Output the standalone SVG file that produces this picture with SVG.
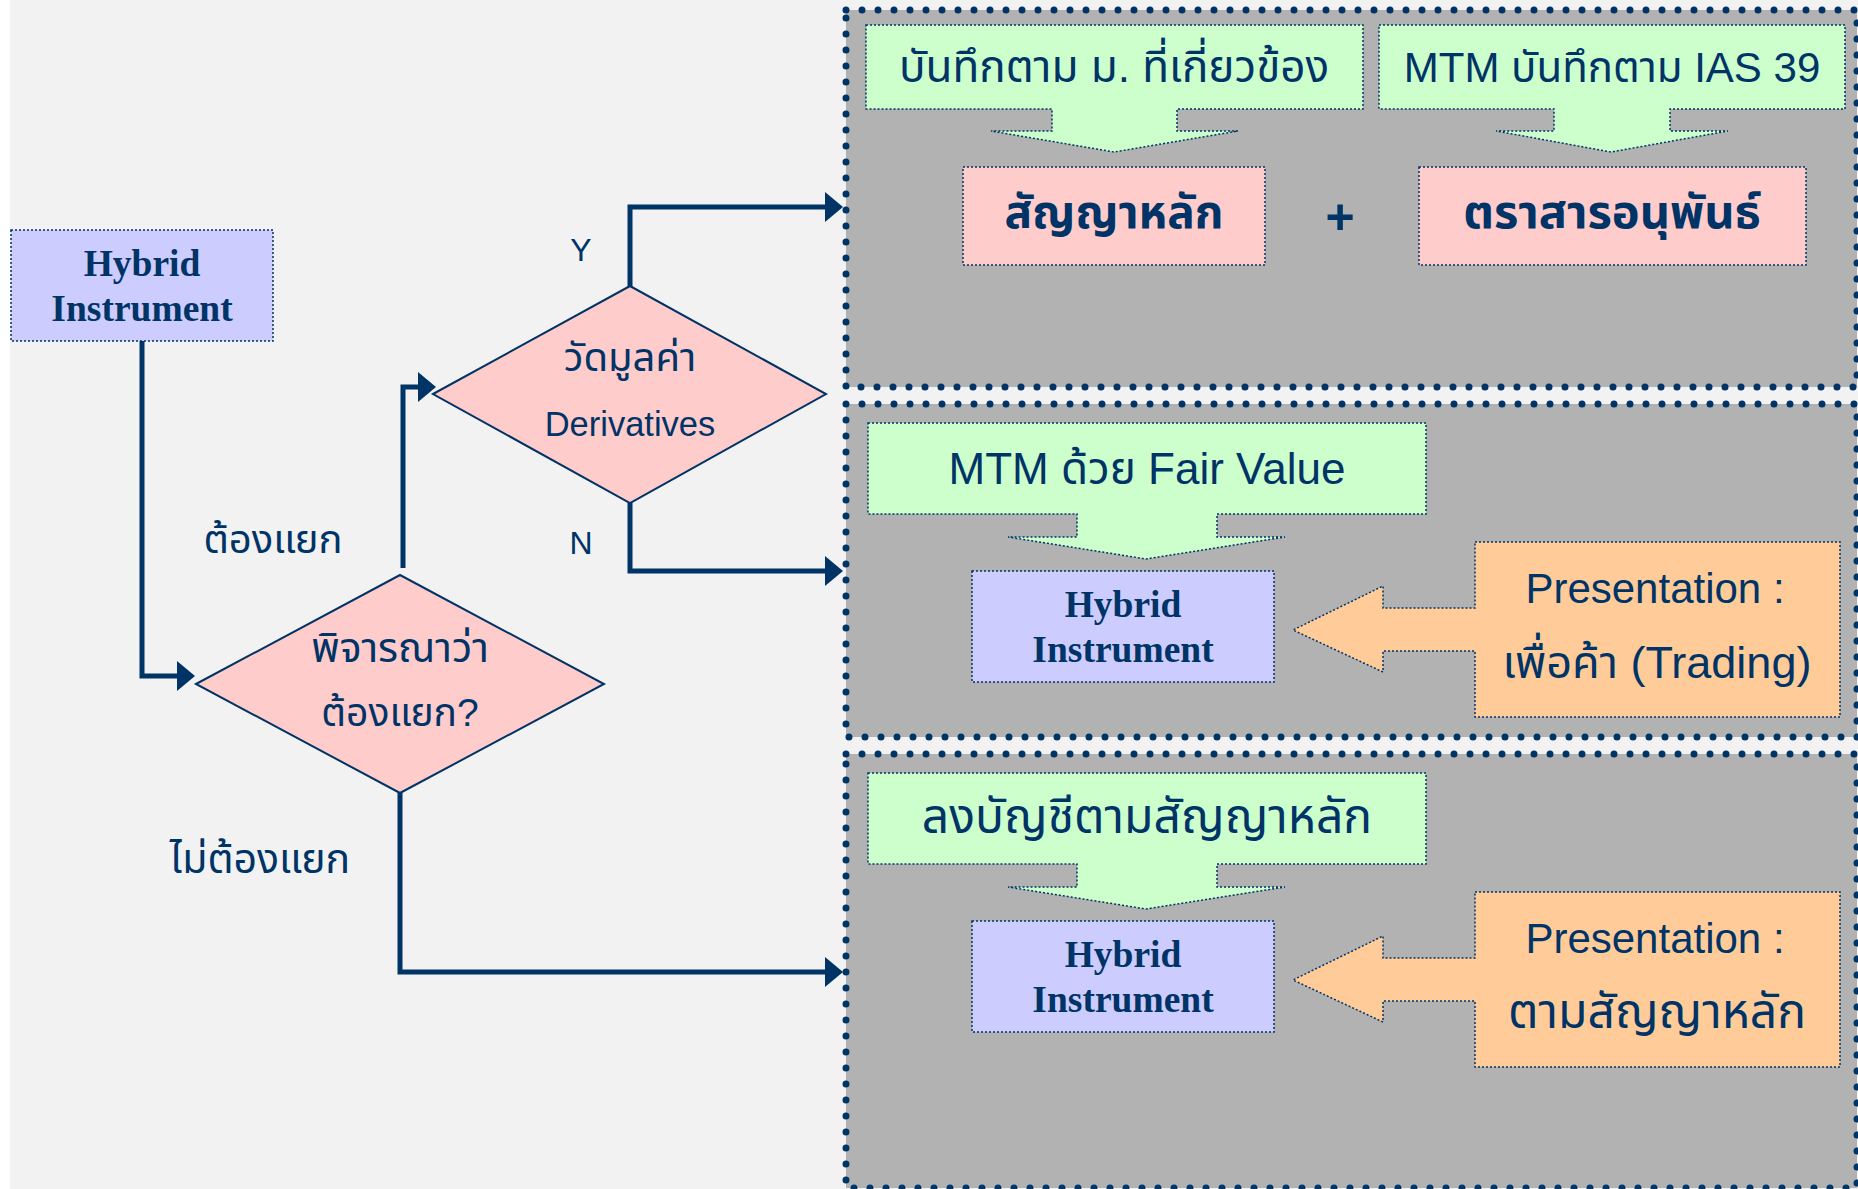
<svg xmlns="http://www.w3.org/2000/svg" width="1858" height="1189" viewBox="0 0 1858 1189">
  <defs>
    <style>
      .bg { fill: #f2f2f2; }
      .panel { fill: #b2b2b2; stroke: #003366; stroke-width: 7; stroke-linecap: round; stroke-dasharray: 0 16; }
      .box { stroke: #003366; stroke-width: 1.5; stroke-dasharray: 2 2; }
      .green { fill: #ccffcc; }
      .pink { fill: #ffcccc; }
      .lav { fill: #ccccff; }
      .orange { fill: #ffcc99; }
      .diamond { fill: #ffcccc; stroke: #003366; stroke-width: 2; }
      .conn { fill: none; stroke: #003366; stroke-width: 5; }
      .t { font-family: "Liberation Sans", "Noto Sans Thai", "Noto Sans", "DejaVu Sans", sans-serif; fill: #003366; text-anchor: middle; }
      .serif { font-family: "Liberation Serif", "Times New Roman", serif; font-weight: bold; fill: #003366; text-anchor: middle; font-size: 37.5px; }
      .s32 { font-size: 32px; }
      .s40 { font-size: 40px; }
      .big { font-weight: bold; }
    </style>
    <marker id="arrow" viewBox="0 0 18 30" refX="0" refY="15" markerWidth="18" markerHeight="30" markerUnits="userSpaceOnUse" orient="auto">
      <path d="M0,0 L18,15 L0,30 Z" fill="#003366"/>
    </marker>
  </defs>

  <!-- page background -->
  <rect class="bg" x="10" y="0" width="1848" height="1189"/>

  <!-- right-hand panels -->
  <g id="panel-embedded">
    <rect class="panel" x="846" y="10" width="1011" height="377"/>
  </g>
  <g id="panel-trading">
    <rect class="panel" x="846" y="404" width="1011" height="333"/>
  </g>
  <g id="panel-host">
    <rect class="panel" x="846" y="754" width="1011" height="434"/>
  </g>

  <!-- connectors -->
  <g id="connectors">
    <polyline class="conn" points="142,341 142,676 177,676" marker-end="url(#arrow)"/>
    <polyline class="conn" points="403,568 403,387 418,387" marker-end="url(#arrow)"/>
    <polyline class="conn" points="630,293 630,207 825,207" marker-end="url(#arrow)"/>
    <polyline class="conn" points="630,503 630,571 825,571" marker-end="url(#arrow)"/>
    <polyline class="conn" points="400,793 400,972 825,972" marker-end="url(#arrow)"/>
    <text class="t s32" x="581" y="261">Y</text>
    <text class="t s32" x="581" y="554">N</text>
    <text class="t" x="273" y="553" font-size="40">ต้องแยก</text>
    <text class="t" x="260" y="873" font-size="41">ไม่ต้องแยก</text>
  </g>

  <!-- start node -->
  <g id="hybrid-start">
    <rect class="box lav" x="11" y="230" width="262" height="111"/>
    <text class="serif" x="142" y="276">Hybrid</text>
    <text class="serif" x="142" y="321">Instrument</text>
  </g>

  <!-- decision: separate? -->
  <g id="decision-separate">
    <polygon class="diamond" points="196,684 400,575 604,684 400,793"/>
    <text class="t" x="400" y="662" font-size="41">พิจารณาว่า</text>
    <text class="t" x="400" y="726" font-size="39">ต้องแยก?</text>
  </g>

  <!-- decision: measure derivatives -->
  <g id="decision-measure">
    <polygon class="diamond" points="433,394 630,286 826,394 630,503"/>
    <text class="t" x="630" y="371" font-size="40">วัดมูลค่า</text>
    <text class="t" x="630" y="436" font-size="34.5">Derivatives</text>
  </g>

  <!-- panel 1 content -->
  <g id="callout-host-standard">
    <path class="box green" d="M866,25 H1363 V109 H1177 V131 H1238 L1114,152 L991,131 H1052 V109 H866 Z"/>
    <text class="t" x="1114" y="82" font-size="44">บันทึกตาม ม. ที่เกี่ยวข้อง</text>
  </g>
  <g id="callout-ias39">
    <path class="box green" d="M1379,25 H1845 V109 H1670 V131 H1728 L1611,152 L1496,131 H1554 V109 H1379 Z"/>
    <text class="t" x="1612" y="82" font-size="42">MTM บันทึกตาม IAS 39</text>
  </g>
  <g id="host-contract">
    <rect class="box pink" x="963" y="167" width="302" height="98"/>
    <text class="t big" x="1114" y="228" font-size="46">สัญญาหลัก</text>
  </g>
  <g id="plus">
    <text class="t" x="1340" y="234" font-size="50" font-weight="bold">+</text>
  </g>
  <g id="derivative">
    <rect class="box pink" x="1419" y="167" width="387" height="98"/>
    <text class="t big" x="1612" y="228" font-size="47">ตราสารอนุพันธ์</text>
  </g>

  <!-- panel 2 content -->
  <g id="callout-fair-value">
    <path class="box green" d="M868,423 H1426 V514 H1217 V537 H1285 L1146,559 L1008,537 H1077 V514 H868 Z"/>
    <text class="t" x="1147" y="484" font-size="44">MTM ด้วย Fair Value</text>
  </g>
  <g id="hybrid-trading">
    <rect class="box lav" x="972" y="571" width="302" height="111"/>
    <text class="serif" x="1123" y="617">Hybrid</text>
    <text class="serif" x="1123" y="662">Instrument</text>
  </g>
  <g id="presentation-trading">
    <path class="box orange" d="M1475,542 H1840 V717 H1475 V651 H1383 V672 L1293,630 L1383,586 V608 H1475 Z"/>
    <text class="t" x="1655" y="603" font-size="42">Presentation :</text>
    <text class="t" x="1657" y="678" font-size="45">เพื่อค้า (Trading)</text>
  </g>

  <!-- panel 3 content -->
  <g id="callout-host-accounting">
    <path class="box green" d="M868,773 H1426 V864 H1217 V887 H1285 L1146,909 L1008,887 H1077 V864 H868 Z"/>
    <text class="t" x="1147" y="833" font-size="48">ลงบัญชีตามสัญญาหลัก</text>
  </g>
  <g id="hybrid-host">
    <rect class="box lav" x="972" y="921" width="302" height="111"/>
    <text class="serif" x="1123" y="967">Hybrid</text>
    <text class="serif" x="1123" y="1012">Instrument</text>
  </g>
  <g id="presentation-host">
    <path class="box orange" d="M1475,892 H1840 V1067 H1475 V1001 H1383 V1022 L1293,980 L1383,936 V958 H1475 Z"/>
    <text class="t" x="1655" y="953" font-size="42">Presentation :</text>
    <text class="t" x="1657" y="1028" font-size="48">ตามสัญญาหลัก</text>
  </g>
</svg>
